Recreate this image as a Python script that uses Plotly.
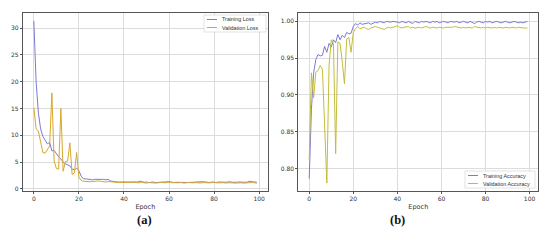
import plotly.graph_objs as go
from plotly.subplots import make_subplots

# loss curves (panel a)
train_loss = [31.3, 20.0, 14.2, 11.2, 9.8, 9.1, 8.4, 8.7, 7.1, 7.2,
              6.5, 6.0, 5.6, 5.0, 4.7, 4.5, 4.3, 3.7, 3.6, 3.9,
              3.4, 2.4, 1.9, 1.9, 1.8, 1.8, 1.7, 1.8, 1.8, 1.9,
              1.8, 1.8, 1.7, 1.8, 1.5, 1.4, 1.35, 1.3, 1.3, 1.3,
              1.28, 1.27, 1.3, 1.25, 1.3, 1.35, 1.3, 1.45, 1.3, 1.25,
              1.3, 1.2, 1.25, 1.3, 1.2, 1.22, 1.3, 1.25, 1.3, 1.4,
              1.35, 1.3, 1.2, 1.25, 1.22, 1.2, 1.3, 1.25, 1.2, 1.22,
              1.25, 1.3, 1.2, 1.25, 1.3, 1.35, 1.3, 1.25, 1.2, 1.3,
              1.25, 1.2, 1.3, 1.25, 1.2, 1.25, 1.3, 1.35, 1.25, 1.2,
              1.25, 1.3, 1.25, 1.2, 1.25, 1.3, 1.45, 1.35, 1.3, 1.25]
val_loss = [15.2, 11.2, 10.8, 8.9, 6.8, 6.7, 7.4, 8.0, 17.9, 5.2,
            3.8, 3.7, 15.0, 3.3, 5.1, 5.2, 8.6, 2.7, 3.0, 6.8,
            2.2, 1.6, 1.45, 1.4, 1.4, 1.35, 1.4, 1.45, 1.4, 1.5,
            1.4, 1.35, 1.3, 1.4, 1.35, 1.3, 1.25, 1.3, 1.2, 1.25,
            1.2, 1.15, 1.2, 1.25, 1.2, 1.3, 1.15, 1.2, 1.3, 1.15,
            1.1, 1.2, 1.15, 1.2, 1.1, 1.15, 1.2, 1.25, 1.15, 1.2,
            1.3, 1.2, 1.15, 1.1, 1.15, 1.2, 1.15, 1.1, 1.2, 1.15,
            1.1, 1.15, 1.2, 1.15, 1.1, 1.2, 1.15, 1.1, 1.15, 1.2,
            1.25, 1.15, 1.1, 1.15, 1.2, 1.1, 1.15, 1.2, 1.15, 1.1,
            1.15, 1.2, 1.15, 1.1, 1.15, 1.2, 1.15, 1.2, 1.15, 1.1]

# accuracy curves (panel b)
train_acc = [0.786, 0.880, 0.930, 0.948, 0.955, 0.953, 0.954, 0.966, 0.958, 0.970,
             0.965, 0.975, 0.971, 0.982, 0.975, 0.981, 0.978, 0.985, 0.983, 0.984,
             0.993, 0.997, 0.995, 0.998, 0.996, 0.997, 0.998, 0.998, 0.996, 0.997,
             0.999, 0.998, 1.000, 0.999, 0.998, 1.000, 0.999, 0.999, 1.000, 1.000,
             0.999, 0.998, 1.000, 0.999, 0.998, 1.000, 0.999, 0.997, 1.000, 0.999,
             0.998, 1.000, 0.999, 1.000, 0.999, 0.998, 1.000, 0.999, 1.000, 0.998,
             0.999, 1.000, 0.999, 0.998, 1.000, 0.999, 0.999, 1.000, 0.998, 0.999,
             1.000, 0.999, 0.998, 1.000, 0.999, 0.997, 0.999, 1.000, 0.999, 0.998,
             1.000, 0.999, 1.000, 0.998, 0.999, 1.000, 0.999, 0.998, 0.999, 1.000,
             0.999, 0.998, 0.999, 1.000, 0.999, 0.998, 0.999, 0.998, 0.999, 1.000]
val_acc = [0.812, 0.930, 0.896, 0.931, 0.933, 0.940, 0.935, 0.865, 0.780, 0.940,
           0.975, 0.970, 0.820, 0.972, 0.970, 0.945, 0.915, 0.976, 0.978, 0.958,
           0.985, 0.990, 0.993, 0.990, 0.991, 0.992, 0.990, 0.989, 0.991, 0.992,
           0.993, 0.992, 0.991, 0.990, 0.989, 0.991, 0.992, 0.991, 0.992, 0.993,
           0.994, 0.992, 0.991, 0.992, 0.992, 0.993, 0.991, 0.992, 0.991, 0.992,
           0.992, 0.991, 0.992, 0.993, 0.992, 0.991, 0.992, 0.991, 0.991, 0.992,
           0.991, 0.991, 0.992, 0.992, 0.991, 0.992, 0.993, 0.992, 0.991, 0.991,
           0.992, 0.991, 0.992, 0.992, 0.991, 0.993, 0.992, 0.991, 0.991, 0.992,
           0.991, 0.992, 0.991, 0.991, 0.992, 0.991, 0.992, 0.991, 0.991, 0.992,
           0.991, 0.991, 0.992, 0.991, 0.991, 0.992, 0.991, 0.991, 0.991, 0.991]

x_ticks = [0, 20, 40, 60, 80, 100]
loss_ticks = [0, 5, 10, 15, 20, 25, 30]
acc_ticks = [0.80, 0.85, 0.90, 0.95, 1.00]

BLUE = "#7b7bd2"
GOLD_A = "#d6a82c"
GOLD_B = "#c4bc3c"
FONT = "DejaVu Sans"

# the page body has an 8px margin, so the figure is drawn 8px in from the
# top-left corner; size it to fill the rest of the 550x244 window
OFF = 8
W, H = 550 - OFF, 244 - OFF


def px(x):
    # window pixel -> paper x
    return (x - OFF) / W


def py(y):
    # window pixel -> paper y
    return 1 - (y - OFF) / H


fig = make_subplots(rows=1, cols=2)

fig.add_trace(go.Scatter(x=list(range(len(train_loss))), y=train_loss,
                         name="Training Loss", mode="lines",
                         line=dict(color=BLUE, width=1)), row=1, col=1)
fig.add_trace(go.Scatter(x=list(range(len(val_loss))), y=val_loss,
                         name="Validation Loss", mode="lines",
                         line=dict(color=GOLD_A, width=1)), row=1, col=1)
fig.add_trace(go.Scatter(x=list(range(len(train_acc))), y=train_acc,
                         name="Training Accuracy", mode="lines",
                         line=dict(color=BLUE, width=1)), row=1, col=2)
fig.add_trace(go.Scatter(x=list(range(len(val_acc))), y=val_acc,
                         name="Validation Accuracy", mode="lines",
                         line=dict(color=GOLD_B, width=1)), row=1, col=2)

axis_style = dict(showline=True, linecolor="#555555", linewidth=0.8, mirror=True,
                  showgrid=True, gridcolor="#dcdcdc", gridwidth=0.8,
                  zeroline=False, ticks="outside", ticklen=2, tickcolor="#555555",
                  tickfont=dict(family=FONT, size=6, color="#333333"))

fig.update_xaxes(**axis_style, tickvals=x_ticks, range=[-4.95, 103.95],
                 title=dict(text="Epoch", font=dict(family=FONT, size=6.5, color="#333333"),
                            standoff=3))
fig.update_xaxes(domain=[px(22.7), px(268)], row=1, col=1)
fig.update_xaxes(domain=[px(298.3), px(538.3)], row=1, col=2)

fig.update_yaxes(**axis_style, domain=[py(190.6), py(13)])
fig.update_yaxes(tickvals=loss_ticks, range=[-0.3, 32.8], row=1, col=1)
fig.update_yaxes(tickvals=acc_ticks, ticktext=[f"{v:.2f}" for v in acc_ticks],
                 range=[0.7698, 1.0114], row=1, col=2)

# compact matplotlib-like legend boxes, drawn in paper coordinates
shapes = []
annotations = []


def legend_box(x0, y0, x1, y1, items):
    shapes.append(dict(type="rect", xref="paper", yref="paper",
                       x0=px(x0), x1=px(x1), y0=py(y0), y1=py(y1),
                       line=dict(color="#d0d0d0", width=0.6),
                       fillcolor="rgba(255,255,255,0.9)"))
    for i, (label, color) in enumerate(items):
        yy = y0 + 4.5 + i * 8
        shapes.append(dict(type="line", xref="paper", yref="paper",
                           x0=px(x0 + 3), x1=px(x0 + 13), y0=py(yy), y1=py(yy),
                           line=dict(color=color, width=1)))
        annotations.append(dict(text=label, x=px(x0 + 16), y=py(yy), xref="paper",
                                yref="paper", xanchor="left", yanchor="middle",
                                showarrow=False,
                                font=dict(family="Liberation Sans", size=5.4,
                                          color="#333333")))


legend_box(204, 15, 266, 32, [("Training Loss", BLUE), ("Validation Loss", GOLD_A)])
legend_box(465, 171, 535, 188, [("Training Accuracy", BLUE), ("Validation Accuracy", GOLD_B)])

annotations += [
    dict(text="<b>(a)</b>", x=px(135), y=py(229), xref="paper", yref="paper",
         showarrow=False, font=dict(family="Liberation Serif", size=12.5, color="#111111")),
    dict(text="<b>(b)</b>", x=px(407), y=py(229), xref="paper", yref="paper",
         showarrow=False, font=dict(family="Liberation Serif", size=12.5, color="#111111")),
]

fig.update_layout(
    width=W, height=H,
    margin=dict(l=0, r=0, t=0, b=0),
    paper_bgcolor="white", plot_bgcolor="white",
    showlegend=False,
    shapes=shapes,
    annotations=annotations,
)

fig.write_html("out.html")
